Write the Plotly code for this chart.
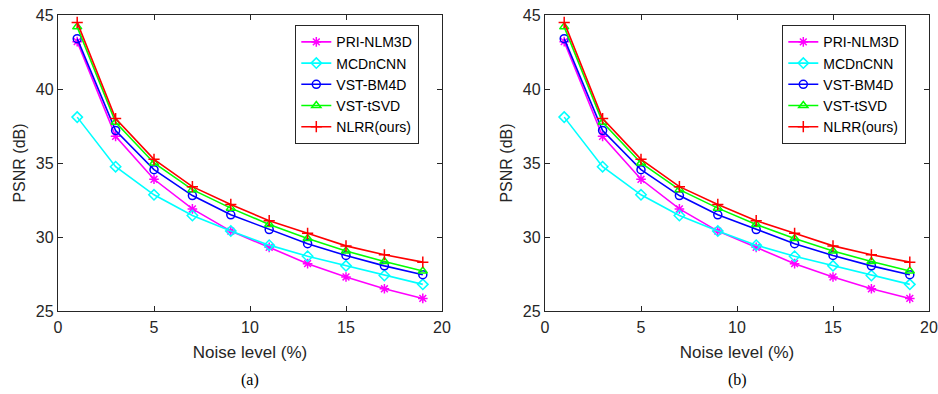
import plotly.graph_objects as go
from plotly.subplots import make_subplots

noise = [1, 3, 5, 7, 9, 11, 13, 15, 17, 19]
series_names = ["PRI-NLM3D", "MCDnCNN", "VST-BM4D", "VST-tSVD", "NLRR(ours)"]
pri_nlm3d = [43.2, 36.8, 33.9, 31.9, 30.4, 29.3, 28.2, 27.3, 26.5, 25.85]
mcdncnn = [38.1, 34.75, 32.85, 31.45, 30.4, 29.45, 28.7, 28.05, 27.4, 26.8]
vst_bm4d = [43.4, 37.2, 34.55, 32.8, 31.5, 30.5, 29.55, 28.75, 28.05, 27.45]
vst_tsvd = [44.2, 37.75, 35.0, 33.2, 31.95, 30.85, 29.9, 29.05, 28.35, 27.7]
nlrr = [44.5, 38.0, 35.25, 33.4, 32.2, 31.1, 30.25, 29.4, 28.8, 28.3]
all_values = [pri_nlm3d, mcdncnn, vst_bm4d, vst_tsvd, nlrr]
colors = ["#ff00ff", "#00ffff", "#0000ff", "#00ff00", "#ff0000"]
symbols = ["asterisk-open", "diamond-open", "circle-open", "triangle-up-open", "cross-thin-open"]
x_ticks = [0, 5, 10, 15, 20]
y_ticks = [25, 30, 35, 40, 45]

fig = make_subplots(rows=1, cols=2)

for col in (1, 2):
    for name, vals, c, s in zip(series_names, all_values, colors, symbols):
        fig.add_trace(go.Scatter(
            x=noise, y=vals, name=name, mode="lines+markers",
            line=dict(color=c, width=1.6),
            marker=dict(symbol=s, size=8, color=c, line=dict(color=c, width=1.5)),
            legend="legend" if col == 1 else "legend2",
        ), row=1, col=col)

FONT = "Liberation Sans, Arial, sans-serif"
axis_font = dict(family=FONT, size=16, color="#262626")
common_x = dict(range=[0, 20], tickvals=x_ticks, ticks="inside", ticklen=5, tickwidth=1,
                tickcolor="#262626", showline=True, linecolor="#262626", linewidth=1.3,
                mirror="allticks", showgrid=False, zeroline=False, tickfont=axis_font,
                automargin=False, ticklabelstandoff=2,
                title=dict(text="Noise level (%)", font=dict(family=FONT, size=17, color="#262626"), standoff=10))
common_y = dict(range=[25, 45], tickvals=y_ticks, ticks="inside", ticklen=5, tickwidth=1,
                tickcolor="#262626", showline=True, linecolor="#262626", linewidth=1.3,
                mirror="allticks", showgrid=False, zeroline=False, tickfont=axis_font,
                automargin=False,
                title=dict(text="PSNR (dB)", font=dict(family=FONT, size=16, color="#262626"), standoff=6))

fig.update_xaxes(**common_x)
fig.update_yaxes(**common_y)
fig.update_layout(
    xaxis=dict(domain=[58/938, 442/938]),
    xaxis2=dict(domain=[545/938, 929/938]),
    yaxis=dict(domain=[1-311/394, 1-15/394]),
    yaxis2=dict(domain=[1-311/394, 1-15/394]),
)

legend_common = dict(bgcolor="white", bordercolor="#262626", borderwidth=1.3,
                     font=dict(family=FONT, size=14, color="#000000"),
                     xanchor="left", yanchor="top", tracegroupgap=0, itemwidth=30)
fig.update_layout(
    legend=dict(x=295/938, y=1-25/394, **legend_common),
    legend2=dict(x=782/938, y=1-25/394, **legend_common),
)

cap_font = dict(family="Liberation Serif, DejaVu Serif, serif", size=16, color="#000000")
fig.add_annotation(text="(a)", x=250/938, y=1-380/394, xref="paper", yref="paper",
                   xanchor="center", yanchor="middle", showarrow=False, font=cap_font)
fig.add_annotation(text="(b)", x=737/938, y=1-380/394, xref="paper", yref="paper",
                   xanchor="center", yanchor="middle", showarrow=False, font=cap_font)

fig.update_layout(width=938, height=394, margin=dict(l=0, r=0, t=0, b=0),
                  plot_bgcolor="white", paper_bgcolor="white", showlegend=True)

fig.write_html("out.html", config={"displayModeBar": False},
               post_script="document.body.style.margin='0';document.body.style.overflow='hidden';")
